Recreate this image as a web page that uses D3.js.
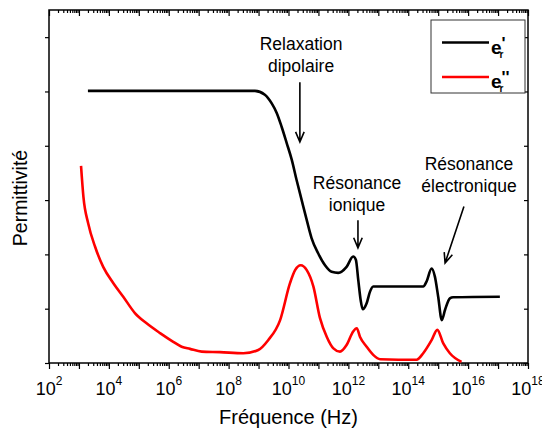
<!DOCTYPE html>
<html>
<head>
<meta charset="utf-8">
<script src="https://cdn.jsdelivr.net/npm/d3@7"></script>
<style>
  body { margin: 0; background: #fff; }
  svg { display: block; font-family: "Liberation Sans", Arial, sans-serif; }
</style>
</head>
<body>
<div id="chart"></div>
<script>
// frequencies are kept as log10(Hz)
const realLogF = [3.3, 8.88, 9.21, 9.44, 9.61, 9.77, 9.94, 10.11, 10.27, 10.44, 10.61, 10.77, 10.99, 11.22, 11.44, 11.66, 11.94, 12.16, 12.25, 12.33, 12.41, 12.48, 12.61, 12.72, 12.83, 14.5, 14.61, 14.78, 14.89, 15.0, 15.12, 15.23, 15.39, 15.5, 17.06];
const realValues = [5.01, 5.01, 4.94, 4.78, 4.6, 4.35, 4.05, 3.74, 3.37, 3.0, 2.63, 2.3, 2.02, 1.8, 1.68, 1.66, 1.77, 1.96, 1.9, 1.53, 1.16, 0.99, 1.1, 1.31, 1.41, 1.41, 1.5, 1.74, 1.59, 1.22, 0.79, 0.98, 1.19, 1.21, 1.22];

const lossLogF = [3.07, 3.15, 3.31, 3.54, 3.81, 4.15, 4.48, 4.87, 5.26, 5.71, 6.15, 6.43, 6.71, 7.1, 7.71, 8.49, 8.99, 9.32, 9.72, 10.05, 10.22, 10.41, 10.61, 10.83, 11.05, 11.28, 11.5, 11.72, 11.94, 12.16, 12.28, 12.39, 12.61, 12.83, 13.06, 14.28, 14.5, 14.78, 14.97, 15.17, 15.39, 15.78];
const lossValues = [3.63, 3.06, 2.57, 2.14, 1.77, 1.47, 1.22, 0.92, 0.73, 0.55, 0.39, 0.3, 0.26, 0.21, 0.2, 0.18, 0.24, 0.42, 0.79, 1.47, 1.71, 1.8, 1.71, 1.41, 0.83, 0.48, 0.27, 0.21, 0.33, 0.58, 0.64, 0.48, 0.3, 0.15, 0.07, 0.06, 0.18, 0.42, 0.61, 0.36, 0.18, 0.02];

const decadeExponents = d3.range(2, 19);
const labelExponents = [2, 4, 6, 8, 10, 12, 14, 16, 18];
const yTickValues = [0, 1, 2, 3, 4, 5, 6];

const seriesNames = ["'", "''"];
const seriesColors = ["#000000", "#ff0000"];

const annotationLines = [
  ["Relaxation", "dipolaire"],
  ["Résonance", "ionique"],
  ["Résonance", "électronique"],
];
const annotationTextAt = [[10.42, 5.76], [12.29, 3.2], [16.03, 3.55]];
const arrowFrom = [[10.38, 5.17], [12.32, 2.63], [15.86, 2.88]];
const arrowTo = [[10.38, 4.07], [12.32, 2.12], [15.23, 1.84]];

const width = 542;
const height = 433;
const plot = { left: 49, right: 528, top: 10, bottom: 363 };

const x = d3.scaleLog().domain([1e2, 1e18]).range([plot.left, plot.right]);
const y = d3.scaleLinear().domain([0, 6.5]).range([plot.bottom, plot.top]);

const svg = d3
  .select("#chart")
  .append("svg")
  .attr("width", width)
  .attr("height", height);

// ticks
const minorTicks = [];
decadeExponents.slice(0, -1).forEach((e) => {
  for (let k = 2; k <= 9; k++) minorTicks.push(k * Math.pow(10, e));
});
const majorTicks = decadeExponents.map((e) => Math.pow(10, e));

function tickGroup(axis, tx, ty) {
  svg
    .append("g")
    .attr("transform", `translate(${tx},${ty})`)
    .call(axis)
    .call((g) => g.select(".domain").remove())
    .call((g) => g.selectAll("line").attr("stroke", "#000").attr("stroke-width", 1.2));
}

[plot.bottom, plot.top].forEach((ty) => {
  tickGroup(d3.axisBottom(x).tickValues(minorTicks).tickSize(3).tickFormat(""), 0, ty);
  tickGroup(d3.axisBottom(x).tickValues(majorTicks).tickSize(6).tickFormat(""), 0, ty);
});
[plot.left, plot.right].forEach((tx) => {
  tickGroup(d3.axisLeft(y).tickValues(yTickValues).tickSize(4).tickFormat(""), tx, 0);
});

// x tick labels 10^n
const xLabels = svg
  .append("g")
  .attr("text-anchor", "middle")
  .selectAll("text")
  .data(labelExponents)
  .join("text")
  .attr("x", (d) => x(Math.pow(10, d)))
  .attr("y", 395)
  .attr("font-size", 18);
xLabels.append("tspan").text("10");
xLabels
  .append("tspan")
  .attr("dy", -10)
  .attr("font-size", 12)
  .text((d) => d);

// frame
svg
  .append("rect")
  .attr("x", plot.left)
  .attr("y", plot.top)
  .attr("width", plot.right - plot.left)
  .attr("height", plot.bottom - plot.top)
  .attr("fill", "none")
  .attr("stroke", "#000")
  .attr("stroke-width", 1.5);

// axis titles
svg
  .append("text")
  .attr("x", (plot.left + plot.right) / 2)
  .attr("y", 424)
  .attr("text-anchor", "middle")
  .attr("font-size", 20)
  .text("Fréquence (Hz)");

svg
  .append("text")
  .attr("transform", "translate(27,198) rotate(-90)")
  .attr("text-anchor", "middle")
  .attr("font-size", 19.5)
  .text("Permittivité");

// curves
const line = d3
  .line()
  .x((d) => x(Math.pow(10, d[0])))
  .y((d) => y(d[1]))
  .curve(d3.curveMonotoneX);

const series = [
  d3.zip(realLogF, realValues),
  d3.zip(lossLogF, lossValues),
];

svg
  .append("g")
  .selectAll("path")
  .data(series)
  .join("path")
  .attr("fill", "none")
  .attr("stroke", (d, i) => seriesColors[i])
  .attr("stroke-width", 2.6)
  .attr("stroke-linejoin", "round")
  .attr("d", line);

// annotations
const px = (p) => [x(Math.pow(10, p[0])), y(p[1])];

annotationLines.forEach((lines, i) => {
  const [tx, ty] = px(annotationTextAt[i]);
  svg
    .append("text")
    .attr("text-anchor", "middle")
    .attr("font-size", 17.5)
    .selectAll("tspan")
    .data(lines)
    .join("tspan")
    .attr("x", tx)
    .attr("y", (d, j) => ty + j * 22)
    .text((d) => d);

  const [x0, y0] = px(arrowFrom[i]);
  const [x1, y1] = px(arrowTo[i]);
  const ang = Math.atan2(y1 - y0, x1 - x0);
  const wing = 11;
  const spread = 0.4;
  const w1 = [x1 - wing * Math.cos(ang - spread), y1 - wing * Math.sin(ang - spread)];
  const w2 = [x1 - wing * Math.cos(ang + spread), y1 - wing * Math.sin(ang + spread)];
  svg
    .append("path")
    .attr("fill", "none")
    .attr("stroke", "#000")
    .attr("stroke-width", 1.6)
    .attr("d", `M${x0},${y0}L${x1},${y1}M${w1}L${x1},${y1}L${w2}`);
});

// legend
const legend = svg.append("g");
legend
  .append("rect")
  .attr("x", 431)
  .attr("y", 20)
  .attr("width", 94)
  .attr("height", 73)
  .attr("fill", "#fff")
  .attr("stroke", "#333")
  .attr("stroke-width", 1);

seriesNames.forEach((name, i) => {
  const ly = 42.5 + i * 34.5;
  legend
    .append("line")
    .attr("x1", 442)
    .attr("x2", 489)
    .attr("y1", ly)
    .attr("y2", ly)
    .attr("stroke", seriesColors[i])
    .attr("stroke-width", 2.6);
  const label = legend
    .append("text")
    .attr("x", 491)
    .attr("y", ly + 11)
    .attr("font-size", 19)
    .attr("font-weight", "bold");
  label.append("tspan").text("e");
  label
    .append("tspan")
    .attr("dx", -2)
    .attr("dy", 4)
    .attr("font-size", 10)
    .text("r");
  label
    .append("tspan")
    .attr("dx", -2)
    .attr("dy", -9)
    .attr("font-size", 17)
    .text(name);
});
</script>
</body>
</html>
